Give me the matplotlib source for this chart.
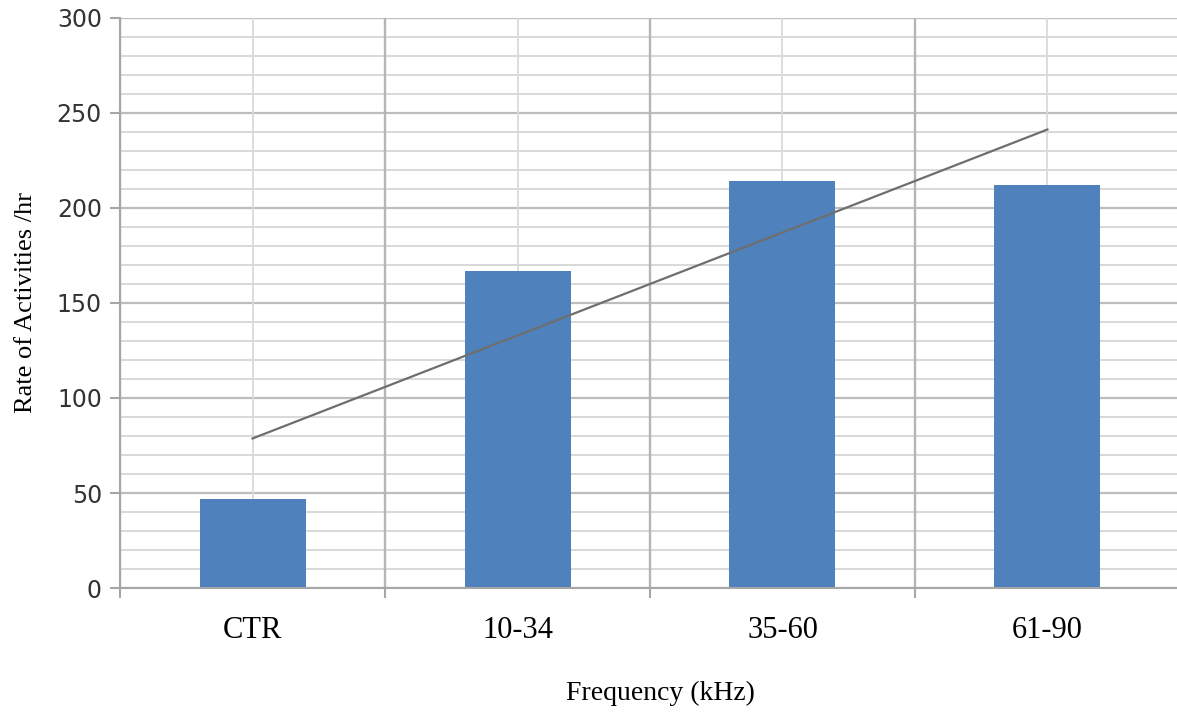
import matplotlib.pyplot as plt
import numpy as np

plt.rcParams['font.family'] = ['Liberation Serif', 'DejaVu Serif']

categories = ['CTR', '10-34', '35-60', '61-90']
rates = [47, 167, 214, 212]

x = np.arange(len(categories))

fig = plt.figure(figsize=(11.77, 7.13), dpi=100)
ax = fig.add_axes([0.102, 0.1753, 0.9005, 0.7995])

# gridlines, Excel style
for y in range(0, 301, 10):
    if y % 50 == 0:
        ax.axhline(y, color='#BDBDBD', lw=1.6, zorder=0)
    else:
        ax.axhline(y, color='#D6D6D6', lw=1.3, zorder=0)
for b in np.arange(-0.5, 4.0, 1.0):
    ax.axvline(b, color='#B5B5B5', lw=1.7, zorder=0)
for c in x:
    ax.axvline(c, color='#DADADA', lw=1.3, zorder=0)

ax.bar(x, rates, width=0.4, color='#4F81BD', zorder=2)

# linear trendline
k, b0 = np.polyfit(x, rates, 1)
ax.plot(x, k * x + b0, color='#6E6E6E', lw=1.6, zorder=3)

ax.set_xlim(-0.5, 3.5)
ax.set_ylim(0, 300)
ax.set_yticks(range(0, 301, 50))
ax.set_xticks(x)
ax.set_xticklabels(categories)
ax.set_xticks(np.arange(-0.5, 4.0, 1.0), minor=True)
ax.tick_params(axis='x', which='major', length=0, pad=20, labelsize=22)
ax.tick_params(axis='x', which='minor', length=7, color='#A6A6A6', width=1.5)
ax.tick_params(axis='y', length=7, color='#A6A6A6', width=1.5, pad=6)
for lab in ax.get_yticklabels():
    lab.set_fontfamily('DejaVu Sans')
    lab.set_fontsize(17)
    lab.set_color('#333333')

for s in ['top', 'right']:
    ax.spines[s].set_visible(False)
ax.spines['left'].set_color('#A6A6A6')
ax.spines['left'].set_linewidth(1.5)
ax.spines['bottom'].set_color('#A6A6A6')
ax.spines['bottom'].set_linewidth(1.5)

ax.set_xlabel('Frequency (kHz)', fontsize=20)
ax.xaxis.set_label_coords(0.510, -0.163)
ax.set_ylabel('Rate of Activities /hr', fontsize=19)
ax.yaxis.set_label_coords(-0.078, 0.5)

plt.savefig('out.png', dpi=100)
